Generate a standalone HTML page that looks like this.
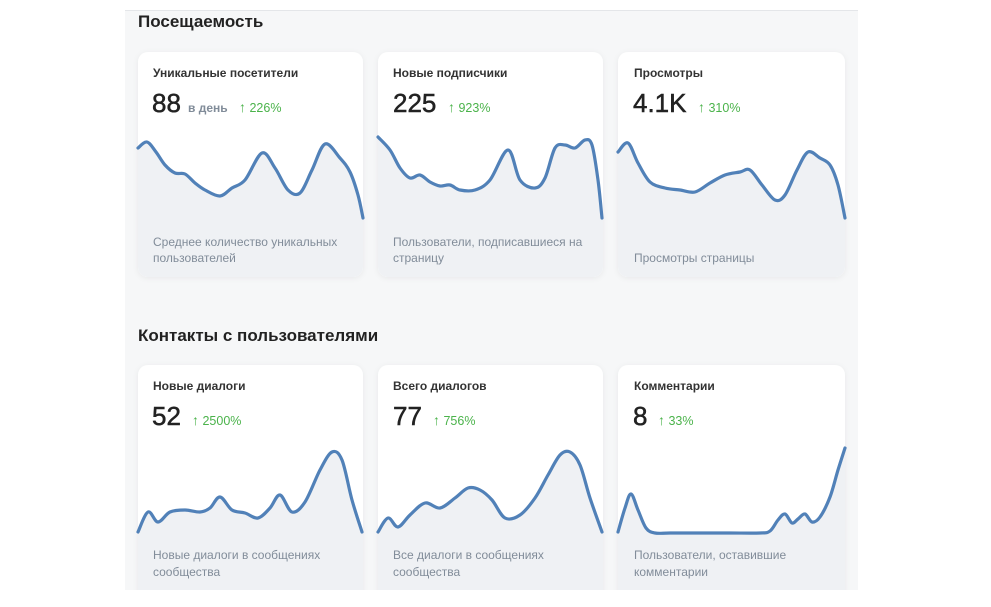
<!DOCTYPE html><html><head><meta charset="utf-8"><style>
body{margin:0;background:#fff;width:991px;height:602px;overflow:hidden;font-family:"Liberation Sans","Noto Sans CJK SC",sans-serif}
</style></head><body>
<svg id="s" width="991" height="602" viewBox="0 0 991 602" xmlns="http://www.w3.org/2000/svg" font-family="Liberation Sans, Noto Sans CJK SC, sans-serif">
<defs><clipPath id="c1"><rect x="138" y="52" width="225" height="225" rx="10"/></clipPath>
<clipPath id="c2"><rect x="378" y="52" width="225" height="225" rx="10"/></clipPath>
<clipPath id="c3"><rect x="618" y="52" width="227" height="225" rx="10"/></clipPath>
<clipPath id="c4"><rect x="138" y="365" width="225" height="240" rx="10"/></clipPath>
<clipPath id="c5"><rect x="378" y="365" width="225" height="240" rx="10"/></clipPath>
<clipPath id="c6"><rect x="618" y="365" width="227" height="240" rx="10"/></clipPath>
<filter id="sh" x="-10%" y="-10%" width="120%" height="120%"><feDropShadow dx="0" dy="1" stdDeviation="3" flood-color="#000" flood-opacity="0.06"/></filter></defs>
<rect x="125" y="10" width="733" height="580" fill="#f6f7f8"/>
<line x1="125" y1="10.5" x2="858" y2="10.5" stroke="#e4e6e9"/>
<text x="138" y="27" font-size="17" font-weight="bold" fill="#222">Посещаемость</text>
<text x="138" y="341" font-size="17" font-weight="bold" fill="#222">Контакты с пользователями</text>
<g filter="url(#sh)">
<rect x="138" y="52" width="225" height="225" rx="10" fill="#fff"/>
<rect x="378" y="52" width="225" height="225" rx="10" fill="#fff"/>
<rect x="618" y="52" width="227" height="225" rx="10" fill="#fff"/>
<rect x="138" y="365" width="225" height="240" rx="10" fill="#fff"/>
<rect x="378" y="365" width="225" height="240" rx="10" fill="#fff"/>
<rect x="618" y="365" width="227" height="240" rx="10" fill="#fff"/>
</g>
<g id="curves" fill="none" stroke="#5181b8" stroke-width="3.2" stroke-linejoin="round" stroke-linecap="round">
<polyline data-c="c1" data-b="280" points="138,148 147,142 156,152 165,165 175,173 185,174 195,183 205,190 220,196 232,188 245,180 262,153 275,168 288,190 300,193 312,170 325,144 340,158 350,172 358,195 363,218"/>
<polyline data-c="c2" data-b="280" points="378,137 390,150 400,168 410,178 420,175 430,182 440,186 450,185 460,190 475,190 490,180 508,150 520,180 535,188 545,178 555,148 565,145 575,148 585,140 592,145 598,180 602,218"/>
<polyline data-c="c3" data-b="280" points="618,152 628,143 638,163 650,182 665,188 680,190 695,192 710,183 725,175 740,172 750,170 762,185 775,200 785,195 797,170 808,152 820,158 830,165 838,185 845,218"/>
<polyline data-c="c4" data-b="602" points="138,532 148,512 158,522 170,512 185,510 200,512 210,508 220,497 232,510 245,513 258,518 270,508 280,495 292,512 305,502 320,470 332,452 342,460 352,500 362,532"/>
<polyline data-c="c5" data-b="602" points="378,532 388,518 398,527 410,515 425,503 440,508 455,498 468,488 480,490 492,500 505,518 520,515 535,498 548,475 560,455 570,452 580,465 590,498 602,532"/>
<polyline data-c="c6" data-b="602" points="618,532 625,508 631,494 638,510 646,528 655,533 670,533 700,533 730,533 760,533 770,531 778,520 785,514 792,523 798,519 805,514 812,522 820,517 830,497 838,470 845,448"/>
</g>
<g font-size="12" font-weight="bold" fill="#333">
<text x="153" y="77">Уникальные посетители</text>
<text x="393" y="77">Новые подписчики</text>
<text x="634" y="77">Просмотры</text>
<text x="153" y="390">Новые диалоги</text>
<text x="393" y="390">Всего диалогов</text>
<text x="634" y="390">Комментарии</text>
</g>
<g font-size="26" fill="#222" stroke="#222" stroke-width="0.5">
<text x="152" y="112">88</text>
<text x="393" y="112">225</text>
<text x="633" y="112">4.1K</text>
<text x="152" y="425">52</text>
<text x="393" y="425">77</text>
<text x="633" y="425">8</text>
</g>
<text x="188" y="112" font-size="12" font-weight="bold" fill="#818c99">в день</text>
<g font-size="12.5" fill="#4bb34b">
<text x="239" y="112"><tspan font-weight="bold" font-size="14">↑</tspan> 226%</text>
<text x="448" y="112"><tspan font-weight="bold" font-size="14">↑</tspan> 923%</text>
<text x="698" y="112"><tspan font-weight="bold" font-size="14">↑</tspan> 310%</text>
<text x="192" y="425"><tspan font-weight="bold" font-size="14">↑</tspan> 2500%</text>
<text x="433" y="425"><tspan font-weight="bold" font-size="14">↑</tspan> 756%</text>
<text x="658" y="425"><tspan font-weight="bold" font-size="14">↑</tspan> 33%</text>
</g>
<g font-size="12" fill="#818c99">
<text x="153" y="246">Среднее количество уникальных</text>
<text x="153" y="262">пользователей</text>
<text x="393" y="246">Пользователи, подписавшиеся на</text>
<text x="393" y="262">страницу</text>
<text x="634" y="262">Просмотры страницы</text>
<text x="153" y="559">Новые диалоги в сообщениях</text>
<text x="153" y="576">сообщества</text>
<text x="393" y="559">Все диалоги в сообщениях</text>
<text x="393" y="576">сообщества</text>
<text x="634" y="559">Пользователи, оставившие</text>
<text x="634" y="576">комментарии</text>
</g>
<rect x="0" y="590" width="991" height="12" fill="#fff"/>
</svg>
<script>
(function(){
var NS="http://www.w3.org/2000/svg",g=document.getElementById('curves');
var fills=document.createElementNS(NS,'g');fills.setAttribute('fill','#eff1f4');
g.parentNode.insertBefore(fills,g);
var pls=[].slice.call(g.querySelectorAll('polyline'));
pls.forEach(function(pl){
 var p=pl.getAttribute('points').trim().split(/\s+/).map(function(s){return s.split(',').map(Number)});
 var d='M'+p[0][0]+','+p[0][1];
 for(var i=0;i<p.length-1;i++){
  var p0=p[i-1]||p[i],p1=p[i],p2=p[i+1],p3=p[i+2]||p2;
  var c1x=p1[0]+(p2[0]-p0[0])/6,c1y=p1[1]+(p2[1]-p0[1])/6,c2x=p2[0]-(p3[0]-p1[0])/6,c2y=p2[1]-(p3[1]-p1[1])/6;
  d+=' C'+c1x+','+c1y+' '+c2x+','+c2y+' '+p2[0]+','+p2[1];
 }
 var b=pl.getAttribute('data-b'),last=p[p.length-1];
 var f=document.createElementNS(NS,'path');
 f.setAttribute('d',d+' L'+(last[0]+1)+','+last[1]+' L'+(last[0]+1)+','+b+' L'+p[0][0]+','+b+' Z');
 f.setAttribute('clip-path','url(#'+pl.getAttribute('data-c')+')');
 fills.appendChild(f);
 var ln=document.createElementNS(NS,'path');ln.setAttribute('d',d);
 g.replaceChild(ln,pl);
});
})();
</script>
</body></html>
